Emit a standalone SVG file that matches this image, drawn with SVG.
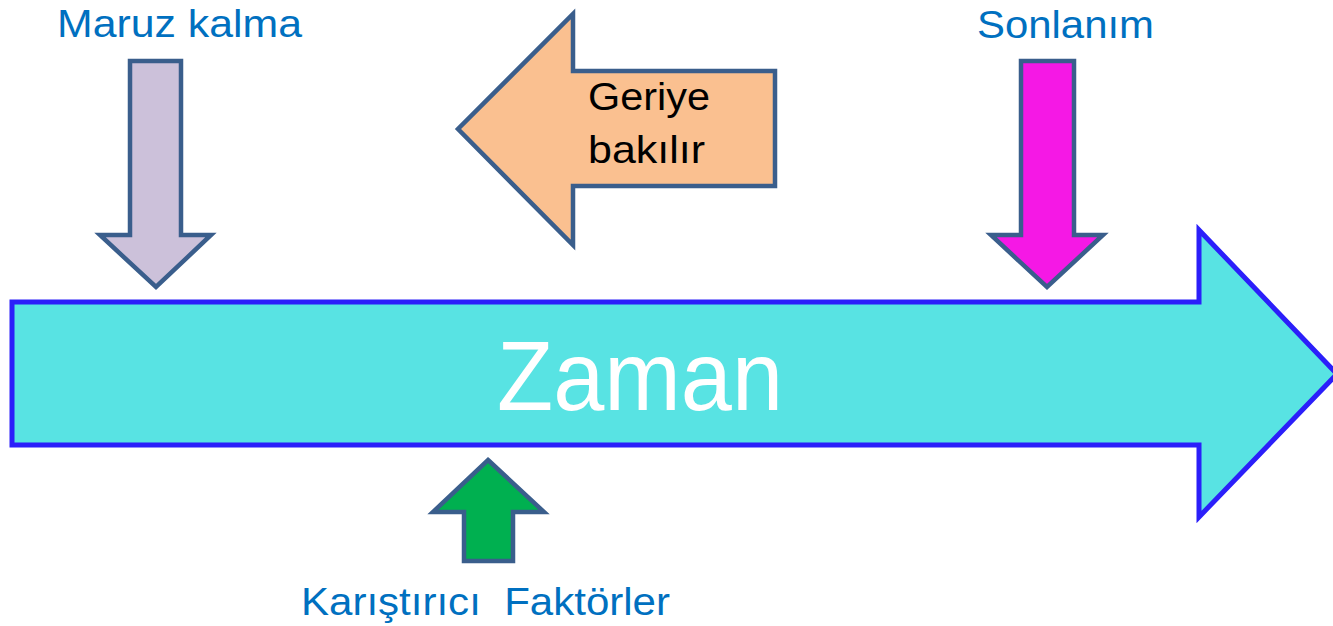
<svg xmlns="http://www.w3.org/2000/svg" width="1333" height="626" viewBox="0 0 1333 626">
  <style>
    .block { stroke: #3A5E8C; stroke-width: 4.5; stroke-linejoin: miter; }
    .label { font-family: "Liberation Sans", Arial, sans-serif; fill: #0070C0; font-size: 38px; }
    .inner { font-family: "Liberation Sans", Arial, sans-serif; fill: #000000; font-size: 39px; }
  </style>
  <rect width="1333" height="626" fill="#FFFFFF"/>

  <!-- time axis -->
  <g id="zaman">
    <polygon points="12,302 1199,302 1199,230 1337,374 1199,517 1199,445 12,445" fill="#58E3E3" stroke="#2B1FFA" stroke-width="5"/>
    <text x="640" y="410" text-anchor="middle" font-family="Liberation Sans, Arial, sans-serif" font-size="99" fill="#FFFFFF" textLength="286" lengthAdjust="spacingAndGlyphs">Zaman</text>
  </g>

  <g id="connectors">
    <!-- exposure -->
    <g id="maruz-kalma">
      <text class="label" x="57" y="37" textLength="245" lengthAdjust="spacingAndGlyphs">Maruz kalma</text>
      <polygon class="block" points="130,61 181,61 181,235 211,235 156,287 100,235 130,235" fill="#CCC1DA"/>
    </g>

    <!-- outcome -->
    <g id="sonlanim">
      <text class="label" x="977" y="38" textLength="177" lengthAdjust="spacingAndGlyphs">Sonlanım</text>
      <polygon class="block" points="1021,61 1074,61 1074,235 1103,235 1047,287 991,235 1021,235" fill="#F518E5"/>
    </g>

    <!-- looking back -->
    <g id="geriye-bakilir">
      <polygon class="block" points="775,71 573,71 573,14 458,129 573,245 573,186 775,186" fill="#FAC090"/>
      <text class="inner" x="588" y="110" textLength="122" lengthAdjust="spacingAndGlyphs">Geriye</text>
      <text class="inner" x="588" y="163" textLength="117" lengthAdjust="spacingAndGlyphs">bakılır</text>
    </g>

    <!-- confounders -->
    <g id="karistirici-faktorler">
      <polygon class="block" points="488,460 544,512 513,512 513,561 464,561 464,512 433,512" fill="#00B050"/>
      <text class="label" x="301" y="615" textLength="369" lengthAdjust="spacingAndGlyphs" xml:space="preserve">Karıştırıcı  Faktörler</text>
    </g>
  </g>
</svg>
